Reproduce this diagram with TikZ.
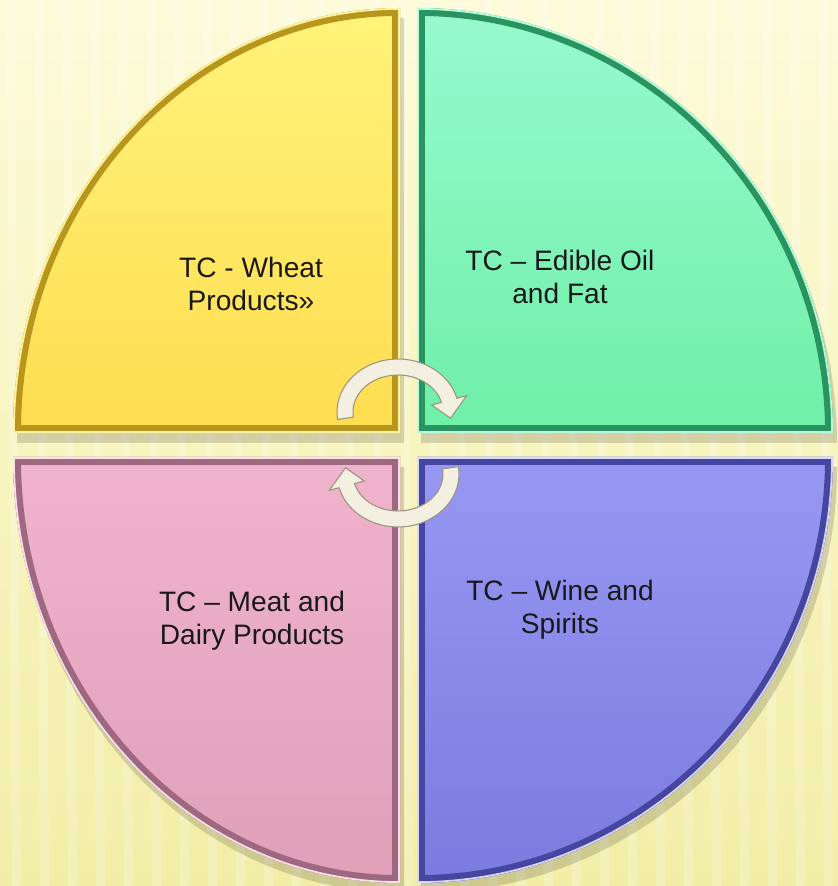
\documentclass[tikz,border=0pt]{standalone}
\usepackage{fontspec}
\setmainfont{Liberation Sans}
\usetikzlibrary{arrows.meta}
\definecolor{bgtop}{HTML}{FDFBDA}
\definecolor{bgbottom}{HTML}{F2EDA6}
\definecolor{wheattop}{HTML}{FFF47C}
\definecolor{wheatbot}{HTML}{FFDC4E}
\definecolor{wheatrim}{HTML}{B8961E}
\definecolor{wheatedge}{HTML}{FFF3A0}
\definecolor{oiltop}{HTML}{98FAD0}
\definecolor{oilbot}{HTML}{6EEFA6}
\definecolor{oilrim}{HTML}{2A9460}
\definecolor{oiledge}{HTML}{B8FFE0}
\definecolor{meattop}{HTML}{F0B4CC}
\definecolor{meatbot}{HTML}{DFA0B8}
\definecolor{meatrim}{HTML}{9E6880}
\definecolor{meatedge}{HTML}{FBE0EA}
\definecolor{winetop}{HTML}{9898F4}
\definecolor{winebot}{HTML}{7B7BDF}
\definecolor{winerim}{HTML}{4646A0}
\definecolor{wineedge}{HTML}{D8D8FF}
\definecolor{arrowfill}{HTML}{F3F0E2}
\definecolor{arrowedge}{HTML}{9A9480}
\tikzset{
  bevel/.style={draw=#1,line width=9pt},
  rimline/.style={draw=#1,line width=2pt},
  dropshade/.style={fill=black,opacity=0.15},
  cycarrow/.style={fill=arrowfill,draw=arrowedge,line width=0.6pt},
  tclabel/.style={font=\fontsize{16}{19}\selectfont,align=center,text=black!90}
}

\begin{document}
\begin{tikzpicture}[x=0.02cm,y=0.02cm]
    % background
    \shade[top color=bgtop,bottom color=bgbottom] (0,0) rectangle (838,886);
    \foreach \sx in {12,40,...,838}
      \fill[white,opacity=0.22] (\sx,0) -- (\sx+9,0) -- (\sx+3,886) -- (\sx-6,886) -- cycle;
    \useasboundingbox (0,0) rectangle (838,886);

    % shadows
    \begin{scope}[shift={(4,-10)}]
      \fill[dropshade] (400,453) -- (13,453) arc[start angle=180,end angle=90,x radius=387,y radius=425] -- cycle;
      \fill[dropshade] (417,453) -- (417,878) arc[start angle=90,end angle=0,x radius=416,y radius=425] -- cycle;
      \fill[dropshade] (400,429) -- (13,429) arc[start angle=180,end angle=270,x radius=387,y radius=426] -- cycle;
      \fill[dropshade] (417,429) -- (417,3) arc[start angle=270,end angle=360,x radius=416,y radius=426] -- cycle;
    \end{scope}

    % wheat
    \begin{scope}
      \clip (400,453) -- (13,453) arc[start angle=180,end angle=90,x radius=387,y radius=425] -- cycle;
      \shade[top color=wheattop,bottom color=wheatbot] (0,440) rectangle (420,890);
      \draw[bevel=wheatrim] (400,453) -- (13,453) arc[start angle=180,end angle=90,x radius=387,y radius=425] -- cycle;
      \draw[rimline=wheatedge] (400,453) -- (13,453) arc[start angle=180,end angle=90,x radius=387,y radius=425] -- cycle;
    \end{scope}

    % edible oil
    \begin{scope}
      \clip (417,453) -- (417,878) arc[start angle=90,end angle=0,x radius=416,y radius=425] -- cycle;
      \shade[top color=oiltop,bottom color=oilbot] (410,440) rectangle (840,890);
      \draw[bevel=oilrim] (417,453) -- (417,878) arc[start angle=90,end angle=0,x radius=416,y radius=425] -- cycle;
      \draw[rimline=oiledge] (417,453) -- (417,878) arc[start angle=90,end angle=0,x radius=416,y radius=425] -- cycle;
    \end{scope}

    % meat
    \begin{scope}
      \clip (400,429) -- (13,429) arc[start angle=180,end angle=270,x radius=387,y radius=426] -- cycle;
      \shade[top color=meattop,bottom color=meatbot] (0,0) rectangle (420,440);
      \draw[bevel=meatrim] (400,429) -- (13,429) arc[start angle=180,end angle=270,x radius=387,y radius=426] -- cycle;
      \draw[rimline=meatedge] (400,429) -- (13,429) arc[start angle=180,end angle=270,x radius=387,y radius=426] -- cycle;
    \end{scope}

    % wine
    \begin{scope}
      \clip (417,429) -- (417,3) arc[start angle=270,end angle=360,x radius=416,y radius=426] -- cycle;
      \shade[top color=winetop,bottom color=winebot] (410,0) rectangle (840,440);
      \draw[bevel=winerim] (417,429) -- (417,3) arc[start angle=270,end angle=360,x radius=416,y radius=426] -- cycle;
      \draw[rimline=wineedge] (417,429) -- (417,3) arc[start angle=270,end angle=360,x radius=416,y radius=426] -- cycle;
    \end{scope}

    % labels
    \node[tclabel] (wheat) at (251,602) {TC - Wheat\\Products»};
    \node[tclabel] (oil) at (560,609) {TC – Edible Oil\\and Fat};
    \node[tclabel] (meat) at (252,265) {TC – Meat and\\Dairy Products};
    \node[tclabel] (wine) at (560,276) {TC – Wine and\\Spirits};

    % cycle arrows
    \filldraw[cycarrow,shift={(398,474)}] (188:61 and 53) arc[start angle=188,end angle=15,x radius=61,y radius=53]
      -- (15:71 and 63) -- (-8:53 and 45) -- (15:35 and 27) -- (15:45 and 37)
      arc[start angle=15,end angle=188,x radius=45,y radius=37] -- cycle;
    \filldraw[cycarrow,rotate around={180:(398,443)},shift={(398,474)}] (188:61 and 53) arc[start angle=188,end angle=15,x radius=61,y radius=53]
      -- (15:71 and 63) -- (-8:53 and 45) -- (15:35 and 27) -- (15:45 and 37)
      arc[start angle=15,end angle=188,x radius=45,y radius=37] -- cycle;
  \end{tikzpicture}
\end{document}
